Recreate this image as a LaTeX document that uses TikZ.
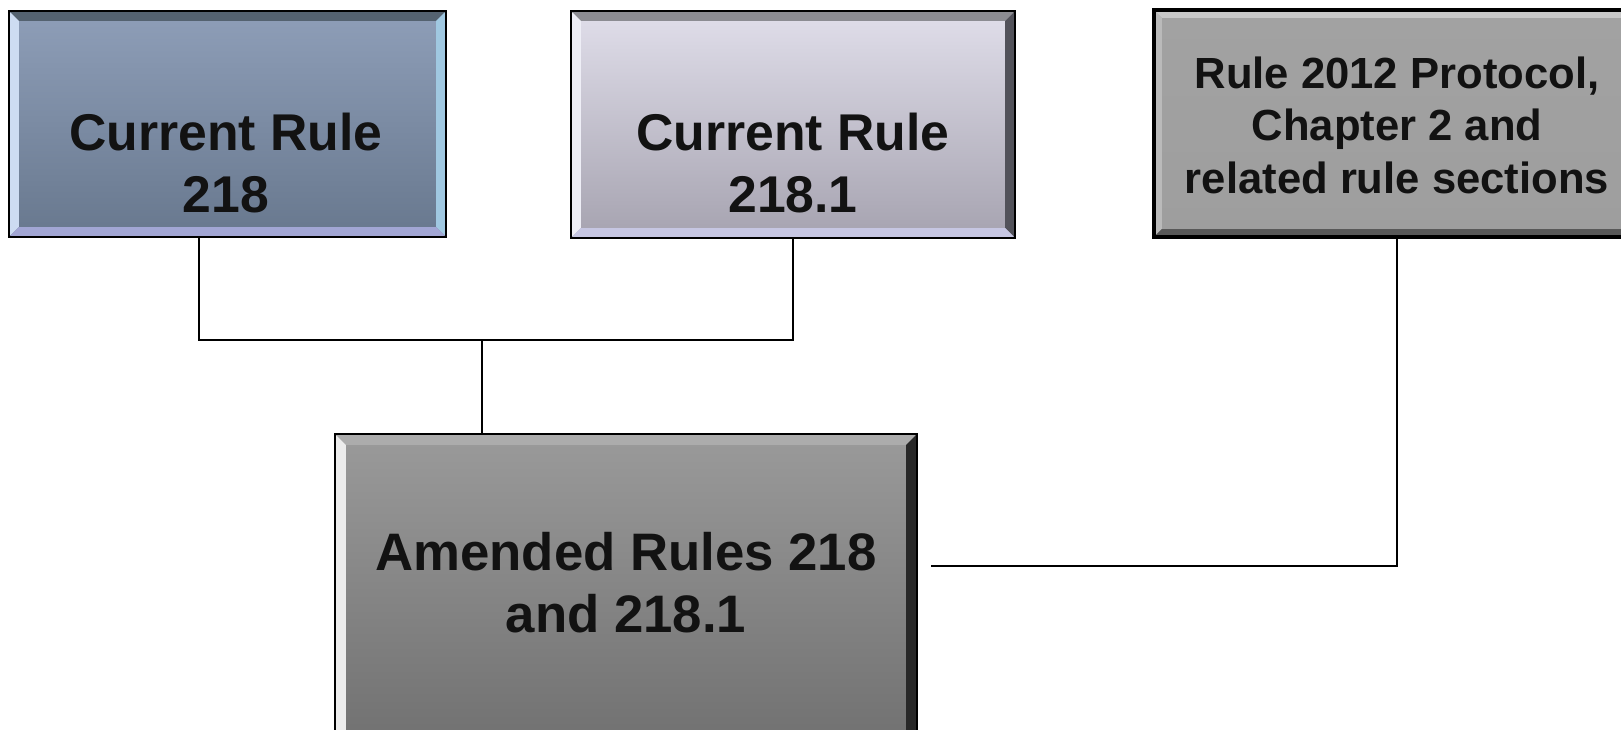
\documentclass[tikz,border=0pt]{standalone}
\usepackage{fontspec}
\setmainfont{Liberation Sans}
\usetikzlibrary{calc, positioning}

% box colours: fill top/bottom and bevel edges
\definecolor{aTop}{RGB}{142,158,184}
\definecolor{aBot}{RGB}{104,120,142}
\definecolor{aT}{RGB}{84,98,112}
\definecolor{aL}{RGB}{205,220,242}
\definecolor{aR}{RGB}{160,200,225}
\definecolor{aB}{RGB}{162,166,212}
\definecolor{bTop}{RGB}{224,222,234}
\definecolor{bBot}{RGB}{166,163,176}
\definecolor{bT}{RGB}{140,140,146}
\definecolor{bL}{RGB}{238,238,246}
\definecolor{bR}{RGB}{82,82,90}
\definecolor{bB}{RGB}{198,198,226}
\definecolor{cTop}{RGB}{162,162,162}
\definecolor{cBot}{RGB}{158,158,158}
\definecolor{cT}{RGB}{200,200,200}
\definecolor{cL}{RGB}{186,186,186}
\definecolor{cR}{RGB}{120,120,120}
\definecolor{cB}{RGB}{88,88,88}
\definecolor{dTop}{RGB}{154,154,154}
\definecolor{dBot}{RGB}{110,110,110}
\definecolor{dT}{RGB}{172,172,172}
\definecolor{dL}{RGB}{236,236,236}
\definecolor{dR}{RGB}{40,40,40}
\definecolor{dB}{RGB}{90,90,90}

\tikzset{
  box/.style={draw=black, line width=0.6pt, inner sep=0pt},
  lblbig/.style={font=\fontsize{14.7pt}{17.6pt}\selectfont\bfseries, align=center, inner sep=0pt, anchor=base, text=black!93},
  lblsmall/.style={font=\fontsize{12.4pt}{14.9pt}\selectfont\bfseries, align=center, inner sep=0pt, anchor=base, text=black!93},
  conn/.style={draw=black, line width=0.6pt},
}

% bevel edges round a box node: node, colour prefix, depth (px), border
\newcommand{\bevel}[4]{%
  \fill[#2T] (#1.north west) -- (#1.north east) -- ([shift={(-#3,#3)}]#1.north east) -- ([shift={(#3,#3)}]#1.north west) -- cycle;
  \fill[#2L] (#1.north west) -- ([shift={(#3,#3)}]#1.north west) -- ([shift={(#3,-#3)}]#1.south west) -- (#1.south west) -- cycle;
  \fill[#2R] (#1.north east) -- (#1.south east) -- ([shift={(-#3,-#3)}]#1.south east) -- ([shift={(-#3,#3)}]#1.north east) -- cycle;
  \fill[#2B] (#1.south west) -- (#1.south east) -- ([shift={(-#3,-#3)}]#1.south east) -- ([shift={(#3,-#3)}]#1.south west) -- cycle;
  \draw[line width=#4] (#1.north west) rectangle (#1.south east);}

\begin{document}
\begin{tikzpicture}[x=0.01cm, y=-0.01cm]
  \clip (0,0) rectangle (1621,729);
  \fill[white] (0,0) rectangle (1621,729);

  % Top row boxes
  \node[box, minimum width=4.35cm, minimum height=2.24cm, top color=aTop, bottom color=aBot] (curA) at (227.5,124) {};
  \bevel{curA}{a}{10}{0.6pt}
  \node[box, minimum width=4.42cm, minimum height=2.25cm, top color=bTop, bottom color=bBot] (curB) at (793,124.5) {};
  \bevel{curB}{b}{10}{0.6pt}
  \node[box, minimum width=4.84cm, minimum height=2.25cm, top color=cTop, bottom color=cBot] (proto) at (1397,123.5) {};
  \bevel{proto}{c}{8}{1.3pt}

  % Amended box, runs off the bottom
  \node[box, minimum width=5.8cm, minimum height=3.3cm, top color=dTop, bottom color=dBot] (amend) at (626,600) {};
  \bevel{amend}{d}{11}{0.6pt}

  % Labels (base = last line)
  \node[lblbig] (curAtxt) at (226,212) {Current Rule\\218};
  \node[lblbig] (curBtxt) at (793,212) {Current Rule\\218.1};
  \node[lblsmall] (prototxt) at (1397,193) {Rule 2012 Protocol,\\Chapter 2 and\\related rule sections};
  \node[lblbig, font=\fontsize{15pt}{17.6pt}\selectfont\bfseries] (amendtxt) at (626,632) {Amended Rules 218\\and 218.1};

  % Connectors
  \coordinate (join) at (482,339);
  \coordinate (tail) at (931,566);
  \draw[conn] ([xshift=-0.285cm]curA.south) -- ++(0,103) -| (curB.south);
  \draw[conn] (join) -- (join |- amend.north);
  \draw[conn] (tail) -| (proto.south);
\end{tikzpicture}
\end{document}
